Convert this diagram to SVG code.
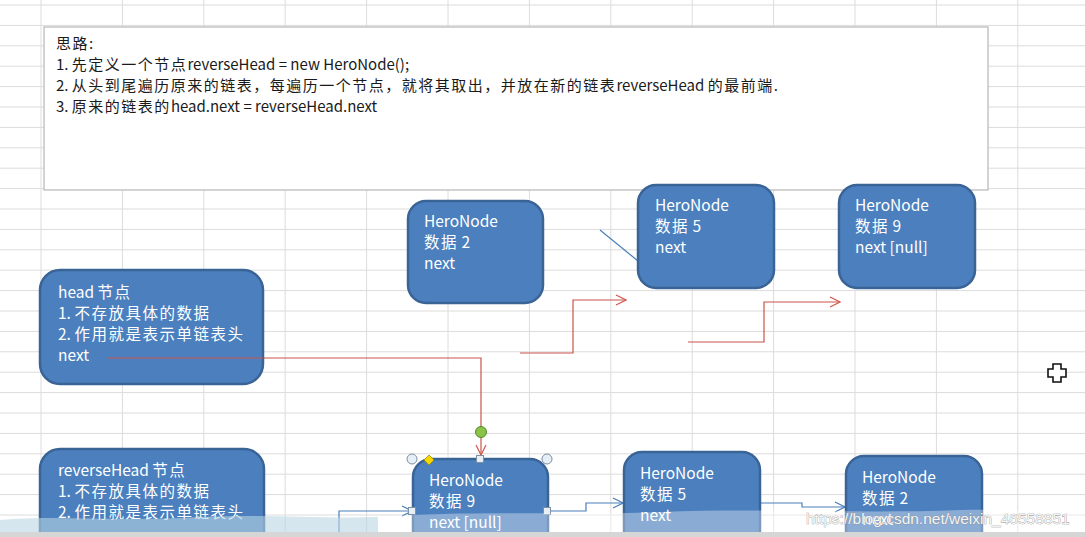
<svg xmlns="http://www.w3.org/2000/svg" width="1085" height="537" viewBox="0 0 1085 537">
<defs>
<style>
.grid line{stroke:#dcdcdc;stroke-width:1}
.node rect.box{fill:#4b7fbe;stroke:#3a6396;stroke-width:2.5}
.node text{fill:#ffffff;font-family:"Noto Sans CJK SC","Noto Sans",sans-serif;font-size:15.5px}
.note text{fill:#1a1a1a;font-family:"Noto Sans CJK SC","Noto Sans",sans-serif;font-size:15px}
.c{letter-spacing:1.5px}
.red{fill:none;stroke:#c9554a;stroke-width:1.2}
.blue{fill:none;stroke:#4a7ebb;stroke-width:1.2}
.handle{fill:#e6eef6;stroke:#7d8fa3;stroke-width:1}
</style>
<marker id="arrRed" viewBox="0 0 12 12" refX="11" refY="6" markerWidth="12" markerHeight="12" markerUnits="userSpaceOnUse" orient="auto">
<path d="M1,1 L11,6 L1,11" fill="none" stroke="#d0584c" stroke-width="1.2"/>
</marker>
<marker id="arrBlue" viewBox="0 0 12 12" refX="11" refY="6" markerWidth="12" markerHeight="12" markerUnits="userSpaceOnUse" orient="auto">
<path d="M1,1 L11,6 L1,11" fill="none" stroke="#4a7ebb" stroke-width="1.2"/>
</marker>
</defs>
<rect x="0" y="0" width="1085" height="537" fill="#ffffff"/>
<g class="grid">
<line x1="41" y1="0" x2="41" y2="537"/><line x1="122.4" y1="0" x2="122.4" y2="537"/><line x1="203.8" y1="0" x2="203.8" y2="537"/><line x1="285.2" y1="0" x2="285.2" y2="537"/><line x1="366.6" y1="0" x2="366.6" y2="537"/><line x1="448" y1="0" x2="448" y2="537"/><line x1="529.4" y1="0" x2="529.4" y2="537"/><line x1="610.8" y1="0" x2="610.8" y2="537"/><line x1="692.2" y1="0" x2="692.2" y2="537"/><line x1="773.6" y1="0" x2="773.6" y2="537"/><line x1="855" y1="0" x2="855" y2="537"/><line x1="936.4" y1="0" x2="936.4" y2="537"/><line x1="1017.8" y1="0" x2="1017.8" y2="537"/>
<line x1="0" y1="5" x2="1085" y2="5"/><line x1="0" y1="25.4" x2="1085" y2="25.4"/><line x1="0" y1="45.8" x2="1085" y2="45.8"/><line x1="0" y1="66.2" x2="1085" y2="66.2"/><line x1="0" y1="86.6" x2="1085" y2="86.6"/><line x1="0" y1="107" x2="1085" y2="107"/><line x1="0" y1="127.4" x2="1085" y2="127.4"/><line x1="0" y1="147.8" x2="1085" y2="147.8"/><line x1="0" y1="168.2" x2="1085" y2="168.2"/><line x1="0" y1="188.6" x2="1085" y2="188.6"/><line x1="0" y1="209" x2="1085" y2="209"/><line x1="0" y1="229.4" x2="1085" y2="229.4"/><line x1="0" y1="249.8" x2="1085" y2="249.8"/><line x1="0" y1="270.2" x2="1085" y2="270.2"/><line x1="0" y1="290.6" x2="1085" y2="290.6"/><line x1="0" y1="311" x2="1085" y2="311"/><line x1="0" y1="331.4" x2="1085" y2="331.4"/><line x1="0" y1="351.8" x2="1085" y2="351.8"/><line x1="0" y1="372.2" x2="1085" y2="372.2"/><line x1="0" y1="392.6" x2="1085" y2="392.6"/><line x1="0" y1="413" x2="1085" y2="413"/><line x1="0" y1="433.4" x2="1085" y2="433.4"/><line x1="0" y1="453.8" x2="1085" y2="453.8"/><line x1="0" y1="474.2" x2="1085" y2="474.2"/><line x1="0" y1="494.6" x2="1085" y2="494.6"/><line x1="0" y1="515" x2="1085" y2="515"/>
</g>
<g id="note" class="note">
<rect x="44" y="27" width="944" height="163" fill="#ffffff" stroke="#bcbcbc" stroke-width="1.3"/>
<text x="56" y="49"><tspan class="c">思路</tspan>:</text>
<text x="56" y="70">1. <tspan class="c">先定义一个节点</tspan>reverseHead = new HeroNode();</text>
<text x="56" y="91">2. <tspan class="c">从头到尾遍历原来的链表，每遍历一个节点，就将其取出，并放在新的链表</tspan>reverseHead <tspan class="c">的最前端</tspan>.</text>
<text x="56" y="112">3. <tspan class="c">原来的链表的</tspan>head.next = reverseHead.next</text>
</g>
<g id="connectors">
<line class="blue" x1="600" y1="230" x2="638" y2="261"/>
<polyline class="red" points="107,358 481,358 481,455" marker-end="url(#arrRed)"/>
<polyline class="red" points="520,353 573,353 573,300 626,300" marker-end="url(#arrRed)"/>
<polyline class="red" points="688,342 764,342 764,302 840,302" marker-end="url(#arrRed)"/>
<polyline class="blue" points="339,537 339,511 412,511" marker-end="url(#arrBlue)"/>
<polyline class="blue" points="548,511 586,511 586,503 623,503" marker-end="url(#arrBlue)"/>
<polyline class="blue" points="760,503 802,503 802,507 845,507" marker-end="url(#arrBlue)"/>
</g>
<g id="head" class="node">
<rect class="box" x="40" y="270" width="223" height="114" rx="20"/>
<text x="58" y="298">head <tspan class="c">节点</tspan></text>
<text x="58" y="319">1. <tspan class="c">不存放具体的数据</tspan></text>
<text x="58" y="340">2. <tspan class="c">作用就是表示单链表头</tspan></text>
<text x="58" y="361">next</text>
</g>
<line x1="107" y1="358" x2="263" y2="358" stroke="#c9554a" stroke-width="1.2"/>
<g id="n2top" class="node">
<rect class="box" x="408" y="201" width="135" height="102" rx="18"/>
<text x="424" y="227">HeroNode</text>
<text x="424" y="248"><tspan class="c">数据</tspan> 2</text>
<text x="424" y="269">next</text>
</g>
<g id="n5top" class="node">
<rect class="box" x="638" y="185" width="136" height="103" rx="18"/>
<text x="655" y="211">HeroNode</text>
<text x="655" y="232"><tspan class="c">数据</tspan> 5</text>
<text x="655" y="253">next</text>
</g>
<g id="n9top" class="node">
<rect class="box" x="839" y="185" width="136" height="103" rx="18"/>
<text x="855" y="211">HeroNode</text>
<text x="855" y="232"><tspan class="c">数据</tspan> 9</text>
<text x="855" y="253">next [null]</text>
</g>
<g id="reverseHead" class="node">
<rect class="box" x="40" y="449" width="224" height="120" rx="20"/>
<text x="58" y="476">reverseHead <tspan class="c">节点</tspan></text>
<text x="58" y="497">1. <tspan class="c">不存放具体的数据</tspan></text>
<text x="58" y="518">2. <tspan class="c">作用就是表示单链表头</tspan></text>
</g>
<g id="n9bottom" class="node">
<rect class="box" x="413" y="459" width="135" height="100" rx="18"/>
<text x="429" y="486">HeroNode</text>
<text x="429" y="507"><tspan class="c">数据</tspan> 9</text>
<text x="429" y="528">next [null]</text>
<circle class="handle" cx="412" cy="459" r="5"/>
<circle class="handle" cx="547" cy="459" r="5"/>
<rect class="handle" x="476.5" y="455.5" width="7" height="7"/>
<rect class="handle" x="408.5" y="507.5" width="7" height="7"/>
<rect class="handle" x="543.5" y="507.5" width="7" height="7"/>
<path d="M429,455 L434,460 L429,465 L424,460 Z" fill="#f5d800" stroke="#a08a00" stroke-width="0.8"/>
<circle cx="481" cy="432" r="5.5" fill="#8bc34a" stroke="#4f8a26" stroke-width="1"/>
</g>
<g id="n5bottom" class="node">
<rect class="box" x="624" y="452" width="136" height="100" rx="18"/>
<text x="640" y="479">HeroNode</text>
<text x="640" y="500"><tspan class="c">数据</tspan> 5</text>
<text x="640" y="521">next</text>
</g>
<g id="n2bottom" class="node">
<rect class="box" x="846" y="456" width="136" height="100" rx="18"/>
<text x="862" y="483">HeroNode</text>
<text x="862" y="504"><tspan class="c">数据</tspan> 2</text>
<text x="862" y="525">next</text>
</g>
<path d="M1053,364 h8 v5 h5 v8 h-5 v5 h-8 v-5 h-5 v-8 h5 Z" fill="#ffffff" stroke="#111111" stroke-width="1.6"/>
<path d="M0,520 C60,515 120,522 200,517 C260,514 320,519 378,517 L378,533 L0,533 Z" fill="#b9d6e2" fill-opacity="0.6"/>
<path d="M378,517 C480,510 560,516 660,512 C760,508 860,514 960,510 C1010,509 1050,512 1085,511 L1085,533 L378,533 Z" fill="#ffffff" fill-opacity="0.35"/>
<rect x="0" y="532" width="1085" height="5" fill="#d6d6d6"/>
<text x="806" y="524" font-family="Liberation Sans, Arial, sans-serif" font-size="15.5" fill="#f4f4f4" stroke="#8a8a8a" stroke-width="0.6" paint-order="stroke">https://blog.csdn.net/weixin_46558851</text>
</svg>
